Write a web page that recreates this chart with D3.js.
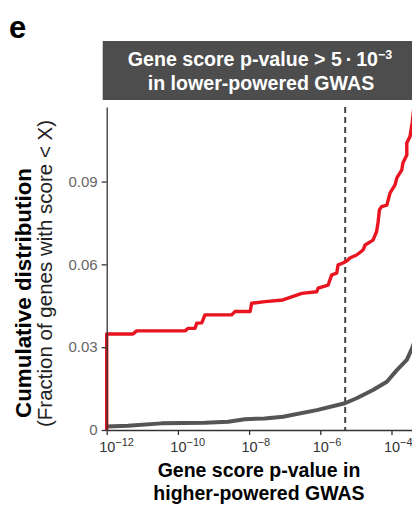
<!DOCTYPE html>
<head>
  <meta charset="utf-8">
  <script src="https://d3js.org/d3.v7.min.js"></script>
  <style>
    body { margin: 0; background: #fff; }
    text { font-family: "Liberation Sans", Arial, sans-serif; }
  </style>
</head>
<body>
<div id="root"></div>
<script>
// x values are log10(p) in the higher-powered GWAS
var redLogP  = [-12, -12, -11.26, -11.16, -9.80, -9.72, -9.52, -9.47, -9.33, -9.24, -8.49, -8.40, -7.97, -7.93,
                -7.55, -7.05, -6.52, -6.10, -6.06, -5.78, -5.68, -5.54, -5.50, -5.36, -5.22, -5.17, -4.98,
                -4.80, -4.74, -4.52, -4.42, -4.38, -4.34, -4.28, -4.13, -4.04, -3.90, -3.85, -3.71, -3.68,
                -3.57, -3.57, -3.48, -3.42, -3.30];
var redFrac  = [0, 0.0348, 0.0348, 0.0359, 0.0359, 0.0368, 0.0368, 0.0387, 0.0388, 0.0417, 0.0417, 0.0429, 0.0429, 0.0459,
                0.0465, 0.0471, 0.0495, 0.0501, 0.0514, 0.0525, 0.0562, 0.0568, 0.0598, 0.0605, 0.0616, 0.0623, 0.0634,
                0.0652, 0.0670, 0.0688, 0.0718, 0.0750, 0.0797, 0.0809, 0.0815, 0.0859, 0.0888, 0.0913, 0.0942, 0.0967,
                0.0996, 0.1040, 0.1063, 0.1112, 0.1250];
var grayLogP = [-12, -11.40, -10.46, -9.24, -8.59, -8.12, -7.56, -7.05, -6.10, -5.31, -4.98, -4.52, -4.13, -3.85, -3.57, -3.42, -3.30];
var grayFrac = [0.0013, 0.0015, 0.0024, 0.0026, 0.0030, 0.0039, 0.0042, 0.0048, 0.0072, 0.0097, 0.0115, 0.0145, 0.0175, 0.0217, 0.0254, 0.0297, 0.0340];
var threshold = 5e-6;
var xTickExp = [-12, -10, -8, -6, -4];
var yTicks = [0, 0.03, 0.06, 0.09];

var W = 412, H = 508;
var plotLeft = 106.7, plotTop = 107, plotBottom = 430;

var svg = d3.select("#root").append("svg")
  .attr("width", W).attr("height", H);

var x = d3.scaleLog().domain([1e-12, 1e-2]).range([plotLeft, plotLeft + 35.6 * 10]);
var y = d3.scaleLinear().domain([0, 0.117]).range([plotBottom, plotTop]);

// panel label
svg.append("text").attr("x", 9).attr("y", 38)
  .style("font-size", "31px").style("font-weight", "bold").text("e");

// strip header
svg.append("rect").attr("x", 102.7).attr("y", 41).attr("width", 330).attr("height", 59)
  .attr("fill", "#4d4d4d");
var h1 = svg.append("text").attr("x", 260).attr("y", 66).attr("text-anchor", "middle")
  .attr("fill", "#fff").style("font-size", "19.6px").style("font-weight", "bold");
h1.append("tspan").text("Gene score p-value > 5\u2009\u00b7\u200910");
h1.append("tspan").attr("dy", -7).style("font-size", "12.5px").text("\u22123");
svg.append("text").attr("x", 261).attr("y", 90).attr("text-anchor", "middle")
  .attr("fill", "#fff").style("font-size", "19.6px").style("font-weight", "bold")
  .text("in lower-powered GWAS");

// clip for curves
svg.append("clipPath").attr("id", "clip").append("rect")
  .attr("x", plotLeft - 3).attr("y", plotTop).attr("width", W).attr("height", plotBottom - plotTop);

var g = svg.append("g").attr("clip-path", "url(#clip)");

// dashed threshold
g.append("line")
  .attr("x1", x(threshold)).attr("x2", x(threshold))
  .attr("y1", plotTop).attr("y2", plotBottom)
  .attr("stroke", "#444").attr("stroke-width", 2).attr("stroke-dasharray", "6,4");

var line = d3.line()
  .x(function(d) { return x(Math.pow(10, d[0])); })
  .y(function(d) { return y(d[1]); });

g.append("path").datum(d3.zip(grayLogP, grayFrac))
  .attr("d", line).attr("fill", "none")
  .attr("stroke", "#555").attr("stroke-width", 4).attr("stroke-linejoin", "round");

g.append("path").datum(d3.zip(redLogP, redFrac))
  .attr("d", line).attr("fill", "none")
  .attr("stroke", "#e8141f").attr("stroke-width", 3.4).attr("stroke-linejoin", "round");

// y axis
var yAxis = svg.append("g").attr("transform", "translate(" + plotLeft + ",0)")
  .call(d3.axisLeft(y).tickValues(yTicks).tickSize(5).tickSizeOuter(0)
    .tickFormat(function(d) { return d === 0 ? "0" : d3.format(".2f")(d); }));
yAxis.select(".domain").attr("stroke", "#333").attr("stroke-width", 1.3);
yAxis.selectAll(".tick line").attr("stroke", "#333").attr("stroke-width", 1.3);
yAxis.selectAll(".tick text").attr("fill", "#666")
  .style("font-size", "15px").style("font-family", "'Liberation Sans', Arial, sans-serif")
  .attr("x", -9);

// x axis
var xAxis = svg.append("g").attr("transform", "translate(0," + plotBottom + ")")
  .call(d3.axisBottom(x).tickValues(xTickExp.map(function(e) { return Math.pow(10, e); }))
    .tickSize(5).tickSizeOuter(0).tickFormat(""));
xAxis.select(".domain").attr("stroke", "#333").attr("stroke-width", 1.3);
xAxis.selectAll(".tick line").attr("stroke", "#333").attr("stroke-width", 1.3);
xAxis.selectAll(".tick").each(function(d) {
  var t = d3.select(this).append("text")
    .attr("fill", "#333").attr("y", 22).attr("text-anchor", "start")
    .style("font-size", "14.5px");
  var base = t.append("tspan").text("10");
  var w = base.node().getComputedTextLength();
  t.attr("x", -w / 2);
  t.append("tspan").attr("dy", -6).style("font-size", "11px")
    .text("\u2212" + Math.abs(Math.round(Math.log10(d))));
});

// x title
svg.append("text").attr("x", 259).attr("y", 477).attr("text-anchor", "middle")
  .style("font-size", "19.5px").style("font-weight", "bold").text("Gene score p-value in");
svg.append("text").attr("x", 259).attr("y", 500).attr("text-anchor", "middle")
  .style("font-size", "19.5px").style("font-weight", "bold").text("higher-powered GWAS");

// y title
svg.append("text").attr("transform", "translate(31,418) rotate(-90)")
  .style("font-size", "22.4px").style("font-weight", "bold").text("Cumulative distribution");
svg.append("text").attr("transform", "translate(52,427) rotate(-90)")
  .attr("fill", "#222").style("font-size", "20.5px").text("(Fraction of genes with score < X)");
</script>
</body>
